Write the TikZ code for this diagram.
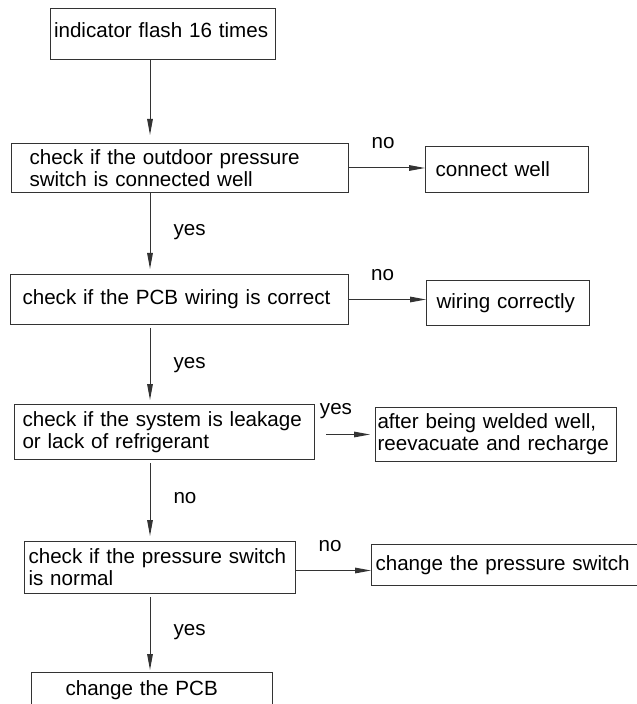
\documentclass[tikz,border=0pt]{standalone}
\usepackage{fontspec}
\setmainfont{Liberation Sans}
\usetikzlibrary{arrows.meta, positioning}
\hyphenpenalty=10000
\exhyphenpenalty=10000

\begin{document}
\begin{tikzpicture}[
    box/.style={draw=black!80, line width=0.5pt, align=left, inner ysep=0pt, anchor=north west, font=\fontsize{10.3pt}{11pt}\selectfont},
    arrow/.style={-{Triangle[length=8pt, width=2.8pt]}, line width=0.5pt, draw=black!80},
    lab/.style={font=\fontsize{10.3pt}{11pt}\selectfont, inner sep=0pt, text height=1ex, text depth=0pt}
]
\useasboundingbox (0,0) rectangle (318pt,-352pt);

% Nodes - checks
\node[box, text width=109pt, inner xsep=1.75pt, minimum height=25.5pt, text depth=4pt] (flash) at (25pt,-4pt) {indicator flash 16 times};
\node[box, below=41.5pt of flash.south west, anchor=north west, xshift=-19.5pt, text width=150.5pt, inner xsep=9pt, minimum height=24.5pt] (outdoor) {check if the outdoor pressure\\switch is connected well};
\node[box, below=40.5pt of outdoor.south west, anchor=north west, xshift=-0.5pt, text width=157pt, inner xsep=6pt, minimum height=25pt] (pcb) {check if the PCB wiring is correct};
\node[box, below=39.5pt of pcb.south west, anchor=north west, xshift=2pt, text width=142pt, inner xsep=4pt, minimum height=27.5pt] (leak) {check if the system is leakage\\or lack of refrigerant};
\node[box, below=40.5pt of leak.south west, anchor=north west, xshift=5pt, text width=131.5pt, inner xsep=2pt, minimum height=26pt] (pswitch) {check if the pressure switch\\is normal};
\node[box, below=39pt of pswitch.south west, anchor=north west, xshift=3.5pt, text width=86.5pt, inner xsep=17pt, minimum height=25pt, text depth=9.5pt] (newpcb) {change the PCB};

% Nodes - fixes
\node[box, right=38pt of outdoor.north east, anchor=north west, yshift=-1.5pt, text width=71.5pt, inner xsep=5pt, minimum height=23pt] (fixconn) {connect well};
\node[box, right=38.5pt of pcb.north east, anchor=north west, yshift=-3pt, text width=71.5pt, inner xsep=5pt, minimum height=22.5pt] (fixwire) {wiring correctly};
\node[box, right=30pt of leak.north east, anchor=north west, yshift=-1.5pt, text width=118.5pt, inner xsep=1pt, minimum height=27pt] (weld) {after being welded well,\\reevacuate and recharge};
\node[box, right=37.5pt of pswitch.north east, anchor=north west, yshift=-1.5pt, text width=136pt, inner xsep=2pt, minimum height=20.5pt] (newswitch) {change the pressure switch};

\coordinate (spine) at (75pt,0);

% Arrows - main flow
\draw[arrow, shorten >=4pt] (flash.south -| spine) -- (outdoor.north -| spine);
\draw[arrow, shorten >=2.5pt] (outdoor.south -| spine) -- node[lab, right=11.5pt, yshift=1.5pt] {yes} (pcb.north -| spine);
\draw[arrow, shorten <=1.5pt, shorten >=2pt] (pcb.south -| spine) -- node[lab, right=11.5pt, yshift=0.5pt] {yes} (leak.north -| spine);
\draw[arrow, shorten <=1.5pt, shorten >=2.5pt] (leak.south -| spine) -- node[lab, right=11.5pt, yshift=1pt] {no} (pswitch.north -| spine);
\draw[arrow, shorten <=1.5pt, shorten >=1pt] (pswitch.south -| spine) -- node[lab, right=11.5pt, yshift=1.5pt] {yes} (newpcb.north -| spine);

% Arrows - fixes
\draw[arrow] (outdoor.east) -- node[lab, yshift=12.5pt, xshift=-2pt] {no} (outdoor.east -| fixconn.west);
\draw[arrow] (pcb.east) -- node[lab, yshift=12pt, xshift=-2.5pt] {no} (pcb.east -| fixwire.west);
\draw[arrow, shorten <=5.5pt, shorten >=2.5pt] (weld.west -| leak.east) -- node[lab, yshift=12.5pt, xshift=-4.5pt] {yes} (weld.west);
\draw[arrow] ([yshift=-1.5pt]pswitch.east) -- node[lab, yshift=12.25pt, xshift=-1.75pt] {no} ([yshift=-1.5pt]pswitch.east -| newswitch.west);

\end{tikzpicture}
\end{document}
